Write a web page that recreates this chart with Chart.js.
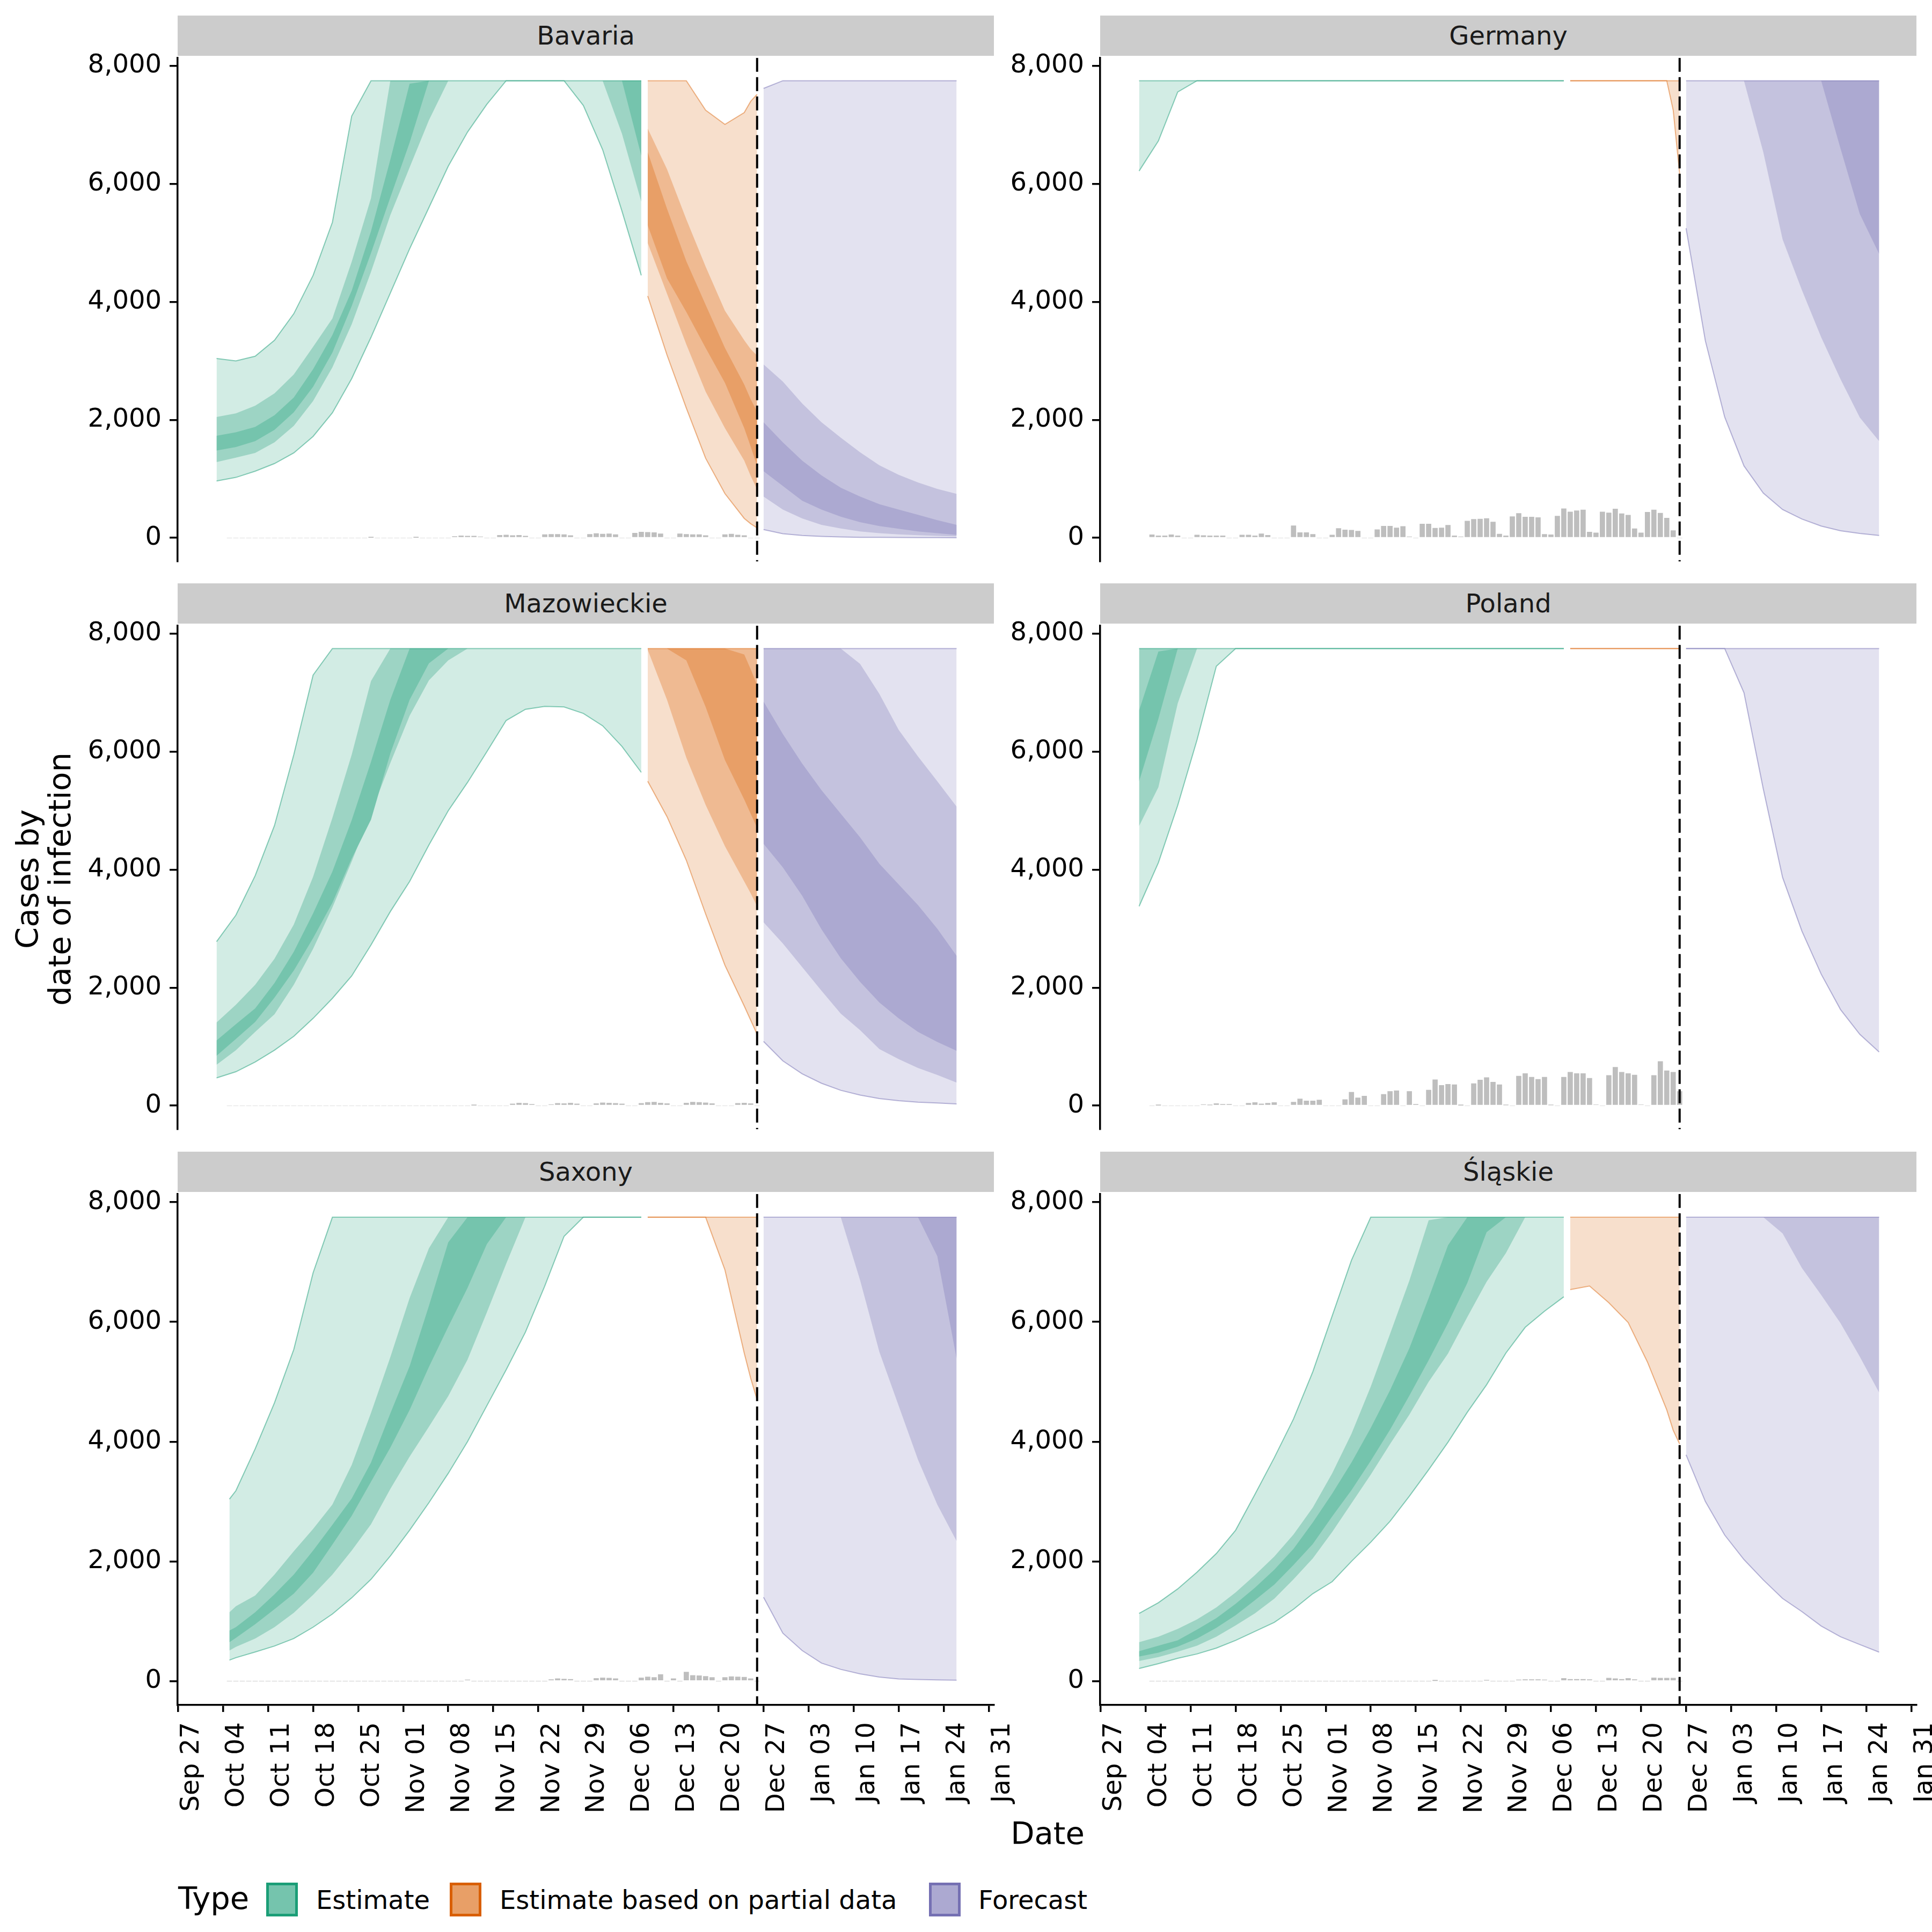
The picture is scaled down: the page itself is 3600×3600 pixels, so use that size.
<!DOCTYPE html>
<html>
<head>
<meta charset="utf-8">
<title>Cases by date of infection</title>
<script src="https://cdn.jsdelivr.net/npm/chart.js@4.4.1/dist/chart.umd.min.js"></script>
<style>
  html, body { margin: 0; padding: 0; background: #fff; overflow: hidden; }
  #page { position: relative; width: 3600px; height: 3600px; font-family: 'DejaVu Sans', sans-serif; color: #000; overflow: hidden; }
  #page canvas { position: absolute; }
  .strip { position: absolute; background: #CCCCCC; color: #1A1A1A; font-size: 48px; text-align: center; }
  .txt { position: absolute; white-space: pre; }
  .key { position: absolute; box-sizing: border-box; width: 59px; height: 63px; border: 5px solid; }
</style>
</head>
<body>
<div id="page"></div>
<script>
// ---- axis ticks ----
const tickDays = [0, 7, 14, 21, 28, 35, 42, 49, 56, 63, 70, 77, 84, 91, 98, 105, 112, 119, 126];
const tickLabels = ['Sep 27', 'Oct 04', 'Oct 11', 'Oct 18', 'Oct 25', 'Nov 01', 'Nov 08', 'Nov 15', 'Nov 22',
  'Nov 29', 'Dec 06', 'Dec 13', 'Dec 20', 'Dec 27', 'Jan 03', 'Jan 10', 'Jan 17', 'Jan 24', 'Jan 31'];
const yTicks = [0, 2000, 4000, 6000, 8000];

// days counted from Sep 27
const estimateDays = [6, 9, 12, 15, 18, 21, 24, 27, 30, 33, 36, 39, 42, 45, 48, 51, 54, 57, 60, 63, 66, 69, 72];
const saxonyEstimateDays = [8, 9, 12, 15, 18, 21, 24, 27, 30, 33, 36, 39, 42, 45, 48, 51, 54, 57, 60, 63, 66, 69, 72];
const partialDays = [73, 76, 79, 82, 85, 88, 89, 90];
const forecastDays = [91, 94, 97, 100, 103, 106, 109, 112, 115, 118, 121];
const reportDays = [8, 9, 10, 11, 12, 13, 14, 15, 16, 17, 18, 19, 20, 21, 22, 23, 24, 25, 26, 27, 28,
  29, 30, 31, 32, 33, 34, 35, 36, 37, 38, 39, 40, 41, 42, 43, 44, 45, 46, 47, 48, 49, 50, 51, 52, 53, 54, 55, 56,
  57, 58, 59, 60, 61, 62, 63, 64, 65, 66, 67, 68, 69, 70, 71, 72, 73, 74, 75, 76, 77, 78, 79, 80, 81, 82, 83, 84,
  85, 86, 87, 88, 89, 90];
const forecastDate = 90; // Dec 26

// rows: lower 90, lower 50, lower 20, upper 20, upper 50, upper 90 (values above 7750 are cut off)
const bavariaEstimate = [
  [965, 1025, 1130, 1260, 1440, 1720, 2120, 2700, 3400, 4150, 4900, 5600, 6300, 6880, 7350, 7750, 7750, 7750, 7750, 7330, 6580, 5540, 4450],
  [1285, 1360, 1440, 1620, 1900, 2320, 2890, 3620, 4510, 5470, 6280, 7080, 7750, 7750, 7750, 7750, 7750, 7750, 7750, 7750, 7750, 6850, 5700],
  [1480, 1540, 1640, 1830, 2130, 2560, 3140, 3930, 4830, 5770, 6700, 7750, 7750, 7750, 7750, 7750, 7750, 7750, 7750, 7750, 7750, 7750, 6480],
  [1730, 1790, 1880, 2080, 2380, 2860, 3440, 4190, 5200, 6410, 7700, 7750, 7750, 7750, 7750, 7750, 7750, 7750, 7750, 7750, 7750, 7750, 7750],
  [2050, 2110, 2240, 2450, 2770, 3240, 3720, 4680, 5760, 7750, 7750, 7750, 7750, 7750, 7750, 7750, 7750, 7750, 7750, 7750, 7750, 7750, 7750],
  [3040, 3000, 3080, 3350, 3800, 4450, 5350, 7150, 7750, 7750, 7750, 7750, 7750, 7750, 7750, 7750, 7750, 7750, 7750, 7750, 7750, 7750, 7750]
];
const bavariaPartial = [
  [4100, 3100, 2200, 1350, 750, 330, 240, 170],
  [5000, 4140, 3280, 2480, 1860, 1310, 1050, 820],
  [5300, 4400, 3830, 3220, 2630, 1860, 1550, 1220],
  [6540, 5580, 4690, 3950, 3220, 2600, 2350, 2140],
  [6940, 6250, 5400, 4600, 3850, 3350, 3200, 3090],
  [7750, 7750, 7750, 7250, 7010, 7210, 7400, 7520]
];
const bavariaForecast = [
  [140, 70, 40, 25, 15, 10, 8, 6, 5, 4, 3],
  [700, 480, 330, 220, 160, 110, 80, 60, 45, 35, 25],
  [1130, 880, 630, 480, 360, 265, 200, 155, 110, 80, 50],
  [1960, 1620, 1310, 1060, 850, 700, 570, 480, 390, 300, 220],
  [2940, 2650, 2280, 1960, 1700, 1450, 1230, 1070, 940, 830, 745],
  [7620, 7750, 7750, 7750, 7750, 7750, 7750, 7750, 7750, 7750, 7750]
];

const germanyEstimate = [
  [6220, 6730, 7560, 7750, 7750, 7750, 7750, 7750, 7750, 7750, 7750, 7750, 7750, 7750, 7750, 7750, 7750, 7750, 7750, 7750, 7750, 7750, 7750],
  [7750, 7750, 7750, 7750, 7750, 7750, 7750, 7750, 7750, 7750, 7750, 7750, 7750, 7750, 7750, 7750, 7750, 7750, 7750, 7750, 7750, 7750, 7750],
  [7750, 7750, 7750, 7750, 7750, 7750, 7750, 7750, 7750, 7750, 7750, 7750, 7750, 7750, 7750, 7750, 7750, 7750, 7750, 7750, 7750, 7750, 7750],
  [7750, 7750, 7750, 7750, 7750, 7750, 7750, 7750, 7750, 7750, 7750, 7750, 7750, 7750, 7750, 7750, 7750, 7750, 7750, 7750, 7750, 7750, 7750],
  [7750, 7750, 7750, 7750, 7750, 7750, 7750, 7750, 7750, 7750, 7750, 7750, 7750, 7750, 7750, 7750, 7750, 7750, 7750, 7750, 7750, 7750, 7750],
  [7750, 7750, 7750, 7750, 7750, 7750, 7750, 7750, 7750, 7750, 7750, 7750, 7750, 7750, 7750, 7750, 7750, 7750, 7750, 7750, 7750, 7750, 7750]
];
const germanyPartial = [
  [7750, 7750, 7750, 7750, 7750, 7750, 7250, 6170],
  [7750, 7750, 7750, 7750, 7750, 7750, 7750, 7750],
  [7750, 7750, 7750, 7750, 7750, 7750, 7750, 7750],
  [7750, 7750, 7750, 7750, 7750, 7750, 7750, 7750],
  [7750, 7750, 7750, 7750, 7750, 7750, 7750, 7750],
  [7750, 7750, 7750, 7750, 7750, 7750, 7750, 7750]
];
const germanyForecast = [
  [5250, 3340, 2050, 1220, 760, 480, 320, 200, 120, 75, 40],
  [7750, 7750, 7750, 7750, 6540, 5060, 4200, 3400, 2690, 2040, 1640],
  [7750, 7750, 7750, 7750, 7750, 7750, 7750, 7750, 6600, 5490, 4815],
  [7750, 7750, 7750, 7750, 7750, 7750, 7750, 7750, 7750, 7750, 7750],
  [7750, 7750, 7750, 7750, 7750, 7750, 7750, 7750, 7750, 7750, 7750],
  [7750, 7750, 7750, 7750, 7750, 7750, 7750, 7750, 7750, 7750, 7750]
];

const mazowieckieEstimate = [
  [471, 575, 740, 940, 1175, 1480, 1820, 2200, 2725, 3290, 3800, 4420, 5000, 5480, 6000, 6530, 6720, 6770, 6760, 6650, 6440, 6090, 5650],
  [694, 940, 1250, 1550, 2050, 2660, 3360, 4140, 4960, 5810, 6610, 7210, 7550, 7750, 7750, 7750, 7750, 7750, 7750, 7750, 7750, 7750, 7750],
  [845, 1130, 1420, 1830, 2290, 2840, 3440, 4190, 4850, 5970, 6880, 7500, 7750, 7750, 7750, 7750, 7750, 7750, 7750, 7750, 7750, 7750, 7750],
  [1105, 1380, 1650, 2080, 2610, 3260, 3970, 4840, 5830, 6880, 7750, 7750, 7750, 7750, 7750, 7750, 7750, 7750, 7750, 7750, 7750, 7750, 7750],
  [1410, 1710, 2050, 2490, 3070, 3880, 4880, 5950, 7200, 7750, 7750, 7750, 7750, 7750, 7750, 7750, 7750, 7750, 7750, 7750, 7750, 7750, 7750],
  [2780, 3230, 3900, 4750, 5950, 7300, 7750, 7750, 7750, 7750, 7750, 7750, 7750, 7750, 7750, 7750, 7750, 7750, 7750, 7750, 7750, 7750, 7750]
];
const mazowieckiePartial = [
  [5500, 4900, 4160, 3250, 2380, 1690, 1450, 1210],
  [7730, 6880, 5900, 5100, 4400, 3800, 3600, 3380],
  [7750, 7750, 7550, 6760, 5860, 5190, 4950, 4710],
  [7750, 7750, 7750, 7750, 7750, 7650, 7400, 7130],
  [7750, 7750, 7750, 7750, 7750, 7750, 7750, 7750],
  [7750, 7750, 7750, 7750, 7750, 7750, 7750, 7750]
];
const mazowieckieForecast = [
  [1090, 760, 540, 380, 260, 180, 120, 85, 60, 45, 30],
  [3110, 2750, 2350, 1950, 1560, 1280, 960, 790, 640, 520, 390],
  [4440, 4040, 3560, 2990, 2500, 2100, 1750, 1480, 1250, 1080, 930],
  [6850, 6300, 5800, 5350, 4950, 4550, 4100, 3750, 3400, 3000, 2540],
  [7750, 7750, 7750, 7750, 7750, 7490, 6980, 6370, 5920, 5500, 5070],
  [7750, 7750, 7750, 7750, 7750, 7750, 7750, 7750, 7750, 7750, 7750]
];

const polandEstimate = [
  [3380, 4120, 5090, 6200, 7450, 7750, 7750, 7750, 7750, 7750, 7750, 7750, 7750, 7750, 7750, 7750, 7750, 7750, 7750, 7750, 7750, 7750, 7750],
  [4740, 5400, 6820, 7750, 7750, 7750, 7750, 7750, 7750, 7750, 7750, 7750, 7750, 7750, 7750, 7750, 7750, 7750, 7750, 7750, 7750, 7750, 7750],
  [5500, 6560, 7750, 7750, 7750, 7750, 7750, 7750, 7750, 7750, 7750, 7750, 7750, 7750, 7750, 7750, 7750, 7750, 7750, 7750, 7750, 7750, 7750],
  [6700, 7700, 7750, 7750, 7750, 7750, 7750, 7750, 7750, 7750, 7750, 7750, 7750, 7750, 7750, 7750, 7750, 7750, 7750, 7750, 7750, 7750, 7750],
  [7750, 7750, 7750, 7750, 7750, 7750, 7750, 7750, 7750, 7750, 7750, 7750, 7750, 7750, 7750, 7750, 7750, 7750, 7750, 7750, 7750, 7750, 7750],
  [7750, 7750, 7750, 7750, 7750, 7750, 7750, 7750, 7750, 7750, 7750, 7750, 7750, 7750, 7750, 7750, 7750, 7750, 7750, 7750, 7750, 7750, 7750]
];
const polandPartial = [
  [7750, 7750, 7750, 7750, 7750, 7750, 7750, 7750],
  [7750, 7750, 7750, 7750, 7750, 7750, 7750, 7750],
  [7750, 7750, 7750, 7750, 7750, 7750, 7750, 7750],
  [7750, 7750, 7750, 7750, 7750, 7750, 7750, 7750],
  [7750, 7750, 7750, 7750, 7750, 7750, 7750, 7750],
  [7750, 7750, 7750, 7750, 7750, 7750, 7750, 7750]
];
const polandForecast = [
  [7750, 7750, 7750, 7000, 5370, 3870, 2960, 2230, 1630, 1210, 910],
  [7750, 7750, 7750, 7750, 7750, 7750, 7750, 7750, 7750, 7750, 7750],
  [7750, 7750, 7750, 7750, 7750, 7750, 7750, 7750, 7750, 7750, 7750],
  [7750, 7750, 7750, 7750, 7750, 7750, 7750, 7750, 7750, 7750, 7750],
  [7750, 7750, 7750, 7750, 7750, 7750, 7750, 7750, 7750, 7750, 7750],
  [7750, 7750, 7750, 7750, 7750, 7750, 7750, 7750, 7750, 7750, 7750]
];

const saxonyEstimate = [
  [350, 390, 485, 585, 710, 900, 1120, 1390, 1700, 2090, 2520, 2980, 3470, 4000, 4600, 5200, 5830, 6600, 7430, 7750, 7750, 7750, 7750],
  [510, 570, 710, 900, 1140, 1440, 1780, 2180, 2620, 3210, 3750, 4250, 4760, 5370, 6160, 6970, 7750, 7750, 7750, 7750, 7750, 7750, 7750],
  [650, 720, 950, 1200, 1460, 1810, 2280, 2760, 3330, 3900, 4530, 5250, 5920, 6570, 7300, 7750, 7750, 7750, 7750, 7750, 7750, 7750, 7750],
  [845, 900, 1150, 1450, 1780, 2180, 2610, 3050, 3650, 4470, 5260, 6270, 7330, 7750, 7750, 7750, 7750, 7750, 7750, 7750, 7750, 7750, 7750],
  [1150, 1250, 1430, 1780, 2170, 2540, 2950, 3610, 4480, 5410, 6400, 7230, 7750, 7750, 7750, 7750, 7750, 7750, 7750, 7750, 7750, 7750, 7750],
  [3040, 3180, 3880, 4650, 5540, 6820, 7750, 7750, 7750, 7750, 7750, 7750, 7750, 7750, 7750, 7750, 7750, 7750, 7750, 7750, 7750, 7750, 7750]
];
const saxonyPartial = [
  [7750, 7750, 7750, 7750, 6870, 5480, 5060, 4700],
  [7750, 7750, 7750, 7750, 7750, 7750, 7750, 7750],
  [7750, 7750, 7750, 7750, 7750, 7750, 7750, 7750],
  [7750, 7750, 7750, 7750, 7750, 7750, 7750, 7750],
  [7750, 7750, 7750, 7750, 7750, 7750, 7750, 7750],
  [7750, 7750, 7750, 7750, 7750, 7750, 7750, 7750]
];
const saxonyForecast = [
  [1400, 800, 510, 300, 195, 120, 67, 35, 25, 20, 15],
  [7750, 7750, 7750, 7750, 7750, 6700, 5500, 4600, 3700, 2950, 2340],
  [7750, 7750, 7750, 7750, 7750, 7750, 7750, 7750, 7750, 7100, 5390],
  [7750, 7750, 7750, 7750, 7750, 7750, 7750, 7750, 7750, 7750, 7750],
  [7750, 7750, 7750, 7750, 7750, 7750, 7750, 7750, 7750, 7750, 7750],
  [7750, 7750, 7750, 7750, 7750, 7750, 7750, 7750, 7750, 7750, 7750]
];

const slaskieEstimate = [
  [210, 290, 380, 453, 550, 680, 830, 980, 1200, 1460, 1660, 2000, 2320, 2670, 3090, 3530, 3990, 4490, 4950, 5480, 5910, 6180, 6420],
  [335, 400, 490, 590, 740, 930, 1130, 1375, 1700, 2050, 2490, 2970, 3450, 3960, 4450, 5000, 5470, 6080, 6670, 7150, 7750, 7750, 7750],
  [410, 475, 575, 710, 890, 1100, 1350, 1610, 1940, 2290, 2750, 3190, 3680, 4200, 4770, 5360, 5980, 6650, 7500, 7750, 7750, 7750, 7750],
  [500, 590, 680, 860, 1050, 1290, 1560, 1860, 2210, 2650, 3130, 3650, 4230, 4860, 5560, 6400, 7280, 7750, 7750, 7750, 7750, 7750, 7750],
  [650, 740, 870, 1030, 1230, 1480, 1770, 2080, 2450, 2900, 3470, 4130, 4920, 5800, 6690, 7700, 7750, 7750, 7750, 7750, 7750, 7750, 7750],
  [1130, 1310, 1540, 1820, 2130, 2520, 3120, 3730, 4380, 5170, 6100, 7030, 7750, 7750, 7750, 7750, 7750, 7750, 7750, 7750, 7750, 7750, 7750]
];
const slaskiePartial = [
  [6540, 6600, 6320, 5990, 5330, 4530, 4190, 3960],
  [7750, 7750, 7750, 7750, 7750, 7750, 7750, 7750],
  [7750, 7750, 7750, 7750, 7750, 7750, 7750, 7750],
  [7750, 7750, 7750, 7750, 7750, 7750, 7750, 7750],
  [7750, 7750, 7750, 7750, 7750, 7750, 7750, 7750],
  [7750, 7750, 7750, 7750, 7750, 7750, 7750, 7750]
];
const slaskieForecast = [
  [3780, 3000, 2440, 2030, 1690, 1380, 1160, 920, 740, 610, 483],
  [7750, 7750, 7750, 7750, 7750, 7480, 6900, 6450, 5980, 5420, 4820],
  [7750, 7750, 7750, 7750, 7750, 7750, 7750, 7750, 7750, 7750, 7750],
  [7750, 7750, 7750, 7750, 7750, 7750, 7750, 7750, 7750, 7750, 7750],
  [7750, 7750, 7750, 7750, 7750, 7750, 7750, 7750, 7750, 7750, 7750],
  [7750, 7750, 7750, 7750, 7750, 7750, 7750, 7750, 7750, 7750, 7750]
];

// reported cases, one value per day in reportDays (one week per line)
const bavariaReported = [
  0, 0, 0, 0, 0, 0, 0,
  0, 0, 0, 0, 0, 0, 0,
  0, 0, 0, 0, 0, 0, 0,
  0, 5, 0, 0, 0, 0, 0,
  0, 5, 0, 0, 0, 0, 0,
  25, 35, 30, 30, 20, 0, 0,
  45, 50, 40, 45, 30, 0, 0,
  55, 60, 60, 55, 40, 0, 0,
  60, 75, 65, 70, 55, 0, 0,
  80, 100, 95, 90, 70, 0, 0,
  70, 60, 55, 55, 40, 0, 0,
  55, 65, 50, 40, 0, 0
];
const germanyReported = [
  53, 35, 35, 53, 35, 0, 0,
  50, 40, 35, 35, 35, 0, 0,
  50, 50, 35, 70, 45, 0, 0,
  0, 207, 90, 90, 60, 0, 0,
  50, 160, 135, 130, 115, 0, 0,
  140, 200, 200, 170, 195, 20, 0,
  235, 235, 165, 170, 215, 35, 20,
  285, 315, 320, 330, 270, 65, 35,
  360, 415, 355, 355, 345, 60, 53,
  370, 495, 440, 460, 475, 100, 85,
  440, 425, 490, 410, 385, 155, 85,
  435, 475, 420, 335, 125, 0
];
const mazowieckieReported = [
  0, 0, 0, 0, 0, 0, 0,
  0, 0, 0, 0, 0, 0, 0,
  0, 0, 0, 0, 0, 0, 0,
  0, 0, 0, 0, 0, 0, 0,
  0, 0, 0, 0, 0, 0, 0,
  0, 0, 0, 5, 0, 0, 0,
  0, 0, 30, 45, 40, 25, 0,
  0, 20, 40, 35, 45, 30, 0,
  0, 35, 50, 45, 40, 30, 0,
  0, 40, 55, 60, 45, 35, 0,
  0, 45, 60, 55, 50, 35, 0,
  0, 0, 40, 45, 35, 0
];
const polandReported = [
  0, 5, 0, 0, 0, 0, 0,
  0, 20, 10, 35, 25, 25, 0,
  0, 42, 54, 30, 42, 54, 0,
  0, 60, 115, 80, 80, 97, 0,
  0, 0, 103, 230, 133, 163, 0,
  0, 193, 242, 254, 0, 242, 24,
  0, 266, 441, 344, 362, 356, 5,
  0, 375, 435, 477, 399, 356, 10,
  0, 501, 544, 483, 447, 483, 10,
  0, 483, 568, 544, 544, 465, 15,
  0, 513, 652, 568, 544, 519, 15,
  0, 513, 749, 592, 568, 242
];
const saxonyReported = [
  0, 0, 0, 0, 0, 0, 0,
  0, 0, 0, 0, 0, 0, 0,
  0, 0, 0, 0, 0, 0, 0,
  0, 0, 0, 0, 0, 0, 0,
  0, 0, 0, 0, 0, 0, 0,
  0, 0, 20, 0, 0, 0, 0,
  0, 0, 0, 0, 0, 0, 0,
  0, 25, 40, 35, 30, 0, 0,
  0, 45, 55, 50, 40, 0, 0,
  0, 55, 70, 60, 110, 0, 40,
  0, 150, 95, 90, 80, 60, 0,
  60, 75, 70, 65, 40, 0
];
const slaskieReported = [
  0, 0, 0, 0, 0, 0, 0,
  0, 0, 0, 0, 0, 0, 0,
  0, 0, 0, 0, 0, 0, 0,
  0, 0, 0, 0, 0, 0, 0,
  0, 0, 0, 0, 0, 0, 0,
  0, 0, 0, 0, 0, 0, 0,
  0, 0, 5, 0, 0, 0, 0,
  0, 0, 0, 10, 0, 0, 0,
  0, 20, 25, 25, 25, 20, 0,
  0, 45, 30, 30, 30, 25, 0,
  0, 50, 40, 30, 45, 25, 0,
  0, 55, 50, 50, 50, 0
];

// ---- styles / layout ----
const TYPES = [
  { name: 'Estimate', line: '#1B9E77', outline: 'rgba(27,158,119,0.5)', fills: ['#D2ECE4', '#9DD4C4', '#75C4AD'] },
  { name: 'Estimate based on partial data', line: '#D95F02', outline: 'rgba(217,95,2,0.45)', fills: ['#F7DFCC', '#EFBA92', '#E89F67'] },
  { name: 'Forecast', line: '#7570B3', outline: 'rgba(117,112,179,0.5)', fills: ['#E3E2F0', '#C4C2DE', '#ACA9D1'] }
];
const Y_MIN = -400, Y_MAX = 8138, X_MIN = -0.05, X_MAX = 126.8;
const PLOT_W = 1521, PLOT_H = 956, Y_AXIS_W = 300, X_AXIS_H = 230;
const PAD_T = 40, PAD_R = 120, PAD_B = 30, STRIP_H = 75;
const COL_X = [331, 2050], ROW_Y = [104, 1162, 2221];
const FONT = "'DejaVu Sans', sans-serif";

const panels = [
  ['Bavaria', 0, 0, estimateDays, bavariaEstimate, bavariaPartial, bavariaForecast, bavariaReported],
  ['Germany', 0, 1, estimateDays, germanyEstimate, germanyPartial, germanyForecast, germanyReported],
  ['Mazowieckie', 1, 0, estimateDays, mazowieckieEstimate, mazowieckiePartial, mazowieckieForecast, mazowieckieReported],
  ['Poland', 1, 1, estimateDays, polandEstimate, polandPartial, polandForecast, polandReported],
  ['Saxony', 2, 0, saxonyEstimateDays, saxonyEstimate, saxonyPartial, saxonyForecast, saxonyReported],
  ['Śląskie', 2, 1, estimateDays, slaskieEstimate, slaskiePartial, slaskieForecast, slaskieReported]
];

const page = document.getElementById('page');

function addText(text, left, top, size, extra) {
  const d = document.createElement('div');
  d.className = 'txt';
  d.textContent = text;
  d.style.left = left + 'px';
  d.style.top = top + 'px';
  d.style.fontSize = size + 'px';
  d.style.lineHeight = size + 'px';
  if (extra) Object.assign(d.style, extra);
  page.appendChild(d);
  return d;
}

// ribbon datasets for one type: three stacked credible intervals
function addRibbons(datasets, days, rows, type) {
  const pts = k => days.map((d, i) => ({ x: d, y: rows[k][i] }));
  const bands = [[0, 5, 50], [1, 4, 40], [2, 3, 30]];
  bands.forEach(([lo, hi, order], b) => {
    datasets.push({ type: 'line', data: pts(lo), borderWidth: 0, borderColor: 'rgba(0,0,0,0)',
      pointRadius: 0, fill: false, order: order });
    datasets.push({ type: 'line', data: pts(hi), borderWidth: 0, borderColor: 'rgba(0,0,0,0)',
      pointRadius: 0, fill: '-1', backgroundColor: type.fills[b], order: order });
  });
  // thin outline of the outer band
  [0, 5].forEach(k => datasets.push({ type: 'line', data: pts(k), borderWidth: 2,
    borderColor: type.outline, pointRadius: 0, fill: false, order: 10 }));
}

panels.forEach(([name, row, col, estDays, est, part, fcst, reported]) => {
  const bottomRow = row === 2;
  const plotL = COL_X[col], plotT = ROW_Y[row];

  // facet strip
  const strip = document.createElement('div');
  strip.className = 'strip';
  strip.textContent = name;
  Object.assign(strip.style, { left: plotL + 'px', top: (plotT - STRIP_H) + 'px', width: PLOT_W + 'px',
    height: STRIP_H + 'px', lineHeight: STRIP_H + 'px' });
  page.appendChild(strip);

  const canvas = document.createElement('canvas');
  const w = Y_AXIS_W + PLOT_W + PAD_R;
  const h = PAD_T + PLOT_H + (bottomRow ? X_AXIS_H : PAD_B);
  canvas.width = w; canvas.height = h;
  Object.assign(canvas.style, { left: (plotL - Y_AXIS_W) + 'px', top: (plotT - PAD_T) + 'px',
    width: w + 'px', height: h + 'px' });
  page.appendChild(canvas);

  const datasets = [];
  datasets.push({ type: 'line', data: [{ x: forecastDate, y: Y_MAX }, { x: forecastDate, y: Y_MIN }],
    borderColor: '#000', borderWidth: 4, borderDash: [26, 10], pointRadius: 0, fill: false, order: 0 });
  addRibbons(datasets, estDays, est, TYPES[0]);
  addRibbons(datasets, partialDays, part, TYPES[1]);
  addRibbons(datasets, forecastDays, fcst, TYPES[2]);
  datasets.push({ type: 'bar', data: reportDays.map((d, i) => ({ x: d, y: reported[i] })),
    backgroundColor: '#BEBEBE', barThickness: 9, order: 100 });

  new Chart(canvas, {
    type: 'line',
    data: { datasets: datasets },
    options: {
      responsive: false,
      maintainAspectRatio: false,
      animation: false,
      devicePixelRatio: 1,
      events: [],
      layout: { padding: { top: PAD_T, right: PAD_R, bottom: bottomRow ? 0 : PAD_B, left: 0 } },
      plugins: { legend: { display: false }, tooltip: { enabled: false } },
      elements: { line: { tension: 0 }, point: { radius: 0 } },
      scales: {
        x: {
          type: 'linear',
          min: X_MIN,
          max: X_MAX,
          offset: false,
          display: bottomRow,
          afterFit: s => { if (bottomRow) s.height = X_AXIS_H; },
          afterBuildTicks: s => { s.ticks = tickDays.map(v => ({ value: v })); },
          ticks: {
            autoSkip: false,
            minRotation: 90,
            maxRotation: 90,
            labelOffset: 26,
            padding: 19,
            color: '#000',
            font: { family: FONT, size: 48 },
            callback: v => tickLabels[tickDays.indexOf(v)]
          },
          grid: { display: true, offset: false, drawOnChartArea: false, drawTicks: true, tickLength: 13,
            tickWidth: 3.5, tickColor: '#000', color: '#000', lineWidth: 3.5 },
          border: { display: true, color: '#000', width: 3.5 }
        },
        y: {
          type: 'linear',
          min: Y_MIN,
          max: Y_MAX,
          afterFit: s => { s.width = Y_AXIS_W; },
          afterBuildTicks: s => { s.ticks = yTicks.map(v => ({ value: v })); },
          ticks: {
            padding: 15,
            color: '#000',
            font: { family: FONT, size: 48 },
            callback: v => v.toLocaleString('en-US')
          },
          grid: { display: true, drawOnChartArea: false, drawTicks: true, tickLength: 15,
            tickWidth: 3.5, tickColor: '#000', color: '#000', lineWidth: 3.5 },
          border: { display: true, color: '#000', width: 3.5 }
        }
      }
    }
  });
});

// axis titles
addText('Cases by\ndate of infection', -218, 1578, 57.6, { width: '600px', height: '120px', lineHeight: '60px',
  textAlign: 'center', transform: 'rotate(-90deg)' });
addText('Date', 1652, 3388, 57.6, { width: '600px', textAlign: 'center' });

// legend
addText('Type', 332, 3509, 57.6);
const keyX = [496, 838, 1731];
const labelX = [589, 931, 1823];
TYPES.forEach((t, i) => {
  const k = document.createElement('div');
  k.className = 'key';
  Object.assign(k.style, { left: keyX[i] + 'px', top: '3508px', borderColor: t.line, background: t.fills[2] });
  page.appendChild(k);
  addText(t.name, labelX[i], 3516, 48);
});
</script>
</body>
</html>
